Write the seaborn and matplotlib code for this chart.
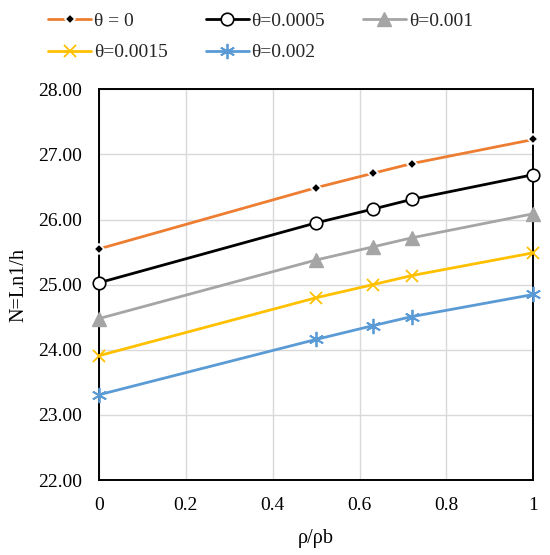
import numpy as np
import pandas as pd
import seaborn as sns
import matplotlib
matplotlib.use("Agg")
import matplotlib.pyplot as plt

# ---- data ----
x_vals = [0, 0.5, 0.63, 0.72, 1]
theta_0 = [25.55, 26.49, 26.71, 26.86, 27.23]
theta_0005 = [25.03, 25.95, 26.16, 26.31, 26.69]
theta_001 = [24.48, 25.38, 25.58, 25.72, 26.09]
theta_0015 = [23.91, 24.80, 25.00, 25.14, 25.49]
theta_002 = [23.31, 24.16, 24.37, 24.51, 24.85]
labels = ["θ = 0", "θ=0.0005", "θ=0.001", "θ=0.0015", "θ=0.002"]
x_ticks = [0, 0.2, 0.4, 0.6, 0.8, 1]
x_tick_labels = ["0", "0.2", "0.4", "0.6", "0.8", "1"]
y_ticks = [22, 23, 24, 25, 26, 27, 28]
y_tick_labels = ["22.00", "23.00", "24.00", "25.00", "26.00", "27.00", "28.00"]

series = [theta_0, theta_0005, theta_001, theta_0015, theta_002]
df = pd.DataFrame({
    "x": x_vals * len(series),
    "y": sum(series, []),
    "s": [lab for lab in labels for _ in x_vals],
})

sns.set_theme(style="white")
plt.rcParams["font.family"] = ["Liberation Serif", "DejaVu Serif"]

styles = {
    "θ = 0": dict(color="#ED7D31", marker="D", ms=5, mfc="black", mec="white", mew=1.2),
    "θ=0.0005": dict(color="black", marker="o", ms=9, mfc="white", mec="black", mew=1.2),
    "θ=0.001": dict(color="#A5A5A5", marker="^", ms=10, mfc="#A5A5A5", mec="#A5A5A5", mew=1),
    "θ=0.0015": dict(color="#FFC000", marker="x", ms=9, mfc="#FFC000", mec="#FFC000", mew=1.3),
    "θ=0.002": dict(color="#5B9BD5", marker=(6, 2, 0), ms=11, mfc="#5B9BD5", mec="#5B9BD5", mew=1.3),
}

fig = plt.figure(figsize=(5.5, 5.55), dpi=100)
ax = fig.add_axes([0.18, 0.135, 0.7897, 0.704])

for lab in labels:
    st = styles[lab]
    sub = df[df["s"] == lab]
    sns.lineplot(data=sub, x="x", y="y", ax=ax, color=st["color"], linewidth=2.0,
                 marker=st["marker"], markersize=st["ms"], markerfacecolor=st["mfc"],
                 markeredgecolor=st["mec"], markeredgewidth=st["mew"], label=lab,
                 legend=False, zorder=3, clip_on=False)

ax.set_xlim(0, 1)
ax.set_ylim(22, 28)
ax.set_xticks(x_ticks)
ax.set_xticklabels(x_tick_labels)
ax.set_yticks(y_ticks)
ax.set_yticklabels(y_tick_labels)
ax.grid(True, color="#D9D9D9", linewidth=1.0)
ax.set_axisbelow(True)
for sp in ax.spines.values():
    sp.set_color("black")
    sp.set_linewidth(1.4)
    sp.set_visible(True)
ax.tick_params(axis="both", length=0, labelsize=14, colors="black", pad=12)
ax.tick_params(axis="y", pad=12)
ax.set_xlabel("ρ/ρb", fontsize=14.5, color="black", labelpad=11)
ax.set_ylabel("N=Ln1/h", fontsize=14.5, color="black", labelpad=7)

handles, labs = ax.get_legend_handles_labels()
order = [0, 3, 1, 4, 2]
fig.legend([handles[i] for i in order], [labs[i] for i in order],
           loc="upper left", bbox_to_anchor=(0.065, 1.0), ncol=3,
           frameon=False, fontsize=14, handlelength=2.2, handletextpad=0.15,
           columnspacing=1.95, labelspacing=0.7, borderaxespad=0.25)

fig.savefig("out.png", dpi=100)
